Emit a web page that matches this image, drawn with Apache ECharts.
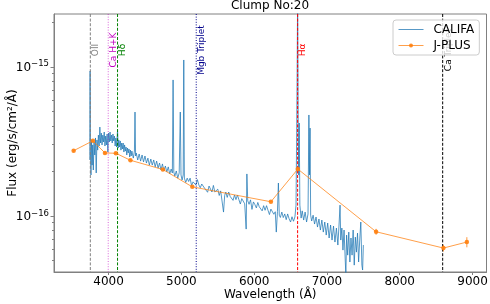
<!DOCTYPE html>
<html>
<head>
<meta charset="utf-8">
<script src="https://cdn.jsdelivr.net/npm/echarts@6/dist/echarts.min.js"></script>
<style>html,body{margin:0;padding:0;background:#fff}#c{width:490px;height:304px}</style>
</head>
<body>
<div id="c"></div>
<script>
// ---- data (flux in units of 1e-17 erg/s/cm2/A) ----
const FLUX_UNIT = 1e-17;
const califaWave = [
3742,3746,3750,3758,3766,3774,3782,3790,3800,3810,
3820,3830,3840,3850,3860,3870,3880,3890,3900,3910,
3920,3930,3940,3950,3960,3970,3980,3990,4000,4010,
4020,4030,4040,4050,4060,4070,4080,4090,4100,4110,
4123,4132,4140,4150,4160,4170,4180,4190,4200,4210,
4220,4230,4240,4250,4260,4270,4280,4290,4300,4310,
4320,4340,4355,4363,4371,4380,4400,4420,4440,4460,
4480,4500,4520,4540,4560,4580,4600,4620,4640,4660,
4680,4700,4720,4740,4760,4780,4800,4820,4840,4860,
4876,4886,4896,4910,4930,4950,4970,4985,4995,5010,
5025,5033,5041,5060,5080,5100,5120,5140,5160,5180,
5200,5220,5240,5260,5280,5300,5320,5340,5360,5380,
5400,5420,5440,5460,5480,5500,5520,5540,5560,5579,
5595,5610,5630,5650,5670,5690,5710,5730,5750,5770,
5790,5810,5830,5850,5870,5890,5900,5912,5930,5950,
5970,5990,6010,6030,6050,6070,6090,6110,6130,6150,
6170,6190,6210,6230,6250,6270,6290,6304,6320,6333,
6345,6360,6380,6400,6420,6440,6460,6480,6500,6520,
6540,6560,6575,6582,6590,6597,6605,6612,6619,6628,
6645,6660,6680,6700,6720,6740,6752,6760,6768,6776,
6790,6810,6830,6850,6870,6890,6910,6930,6950,6970,
6990,7010,7030,7050,7070,7090,7110,7130,7150,7165,
7180,7190,7205,7220,7235,7250,7260,7270,7285,7300,
7315,7330,7345,7360,7375,7390,7405,7420,7435,7450,
7465,7480,7490,7500
];
const califaFlux = [
23.7,93.7,27.6,18.8,32.3,21.9,29.9,20.3,31.3,25.6,
33.3,19.4,32.3,27.6,34.8,29.4,39.4,30.8,35.9,29.9,
34.8,31.3,36.5,29.4,34.3,29.9,35.4,26.8,35.9,31.3,
36.5,31.8,34.8,30.8,35.4,31.8,34.3,29.4,33.3,28.95,
37.6,28.5,32.3,28.95,31.8,27.6,30.8,28.1,30.8,26.8,
29.9,27.2,28.95,25.6,28.5,26.4,28.1,24.8,27.6,25.2,
27.2,24.4,27.2,49.7,25.2,26.4,23.7,26.0,23.3,25.6,
23.0,25.2,22.6,24.4,21.9,24.05,21.9,23.7,21.3,23.3,
20.9,22.6,20.3,22.3,20.0,21.6,19.7,21.3,19.1,20.6,
19.4,81.6,19.7,18.5,20.0,17.9,19.4,49.7,18.8,17.4,
18.8,111.1,17.9,16.75,17.9,17.0,17.9,15.95,16.9,17.2,
16.1,17.5,16.1,15.45,16.35,16.65,15.3,15.6,14.4,15.85,
15.5,14.45,16.0,14.45,14.55,15.1,13.7,14.7,15.0,10.6,
13.7,14.45,13.3,14.45,13.5,13.8,12.7,13.8,12.85,13.8,
12.85,12.0,13.05,13.15,12.05,8.15,19.1,12.6,11.95,12.8,
11.05,12.4,11.9,11.3,12.3,11.5,11.7,10.8,11.7,10.9,
11.7,10.9,10.2,11.1,11.2,10.25,10.65,7.78,10.7,16.6,
10.1,9.75,10.6,9.74,10.3,9.43,10.3,9.56,9.09,9.86,
9.2,9.84,11.8,27.6,81.6,300,41.96,18.8,41.96,11.8,
9.66,10.8,9.37,10.6,9.09,10.3,47.5,18.8,38.8,10.1,
9.23,10.1,8.81,9.82,8.41,9.52,8.03,9.37,7.78,9.09,
7.43,8.95,7.10,8.68,6.88,8.54,6.67,8.28,6.37,8.54,
11.8,6.88,8.28,5.89,8.03,5.21,4.00,7.43,5.45,7.78,
4.90,7.10,5.45,8.03,4.67,7.20,5.71,7.66,4.90,6.88,
9.09,4.67,4.33,6.37
];
const jplusWave = [3520, 3785, 3950, 4100, 4300, 4746, 5150, 6230, 6600, 7675, 8600, 8922];
const jplusFlux = [27.35, 31.9, 26.4, 26.3, 23.6, 20.45, 15.65, 12.43, 20.6, 7.82, 6.08, 6.67];
const jplusErr  = [0.4, 0.4, 0.4, 0.4, 0.3, 0.1, 0.15, 0.1, 0.15, 0.36, 0.31, 0.52];

const lineWave  = [3749, 3995, 4123, 5204, 6597, 8590];
const lineNames = ['OII', 'Ca H+K', 'H\u03b4', 'Mgb Triplet', 'H\u03b1', 'Ca Triplet'];

const xTicks = [4000, 5000, 6000, 7000, 8000, 9000];
const yMajorTicks = [1e-16, 1e-15];
const yMinorTicks = [5e-17, 6e-17, 7e-17, 8e-17, 9e-17, 2e-16, 3e-16, 4e-16, 5e-16, 6e-16, 7e-16, 8e-16, 9e-16, 2e-15];

// ---- styles ----
const lineColors = ['#808080', '#bf00bf', '#008000', '#00008b', '#ff0000', '#000000'];
const lineDashes = [[3, 1.6], [1, 1.6], [3, 1.6], [1, 1.6], [3, 1.6], [3, 1.6]];
const FONT = '"DejaVu Sans", sans-serif';
const AXIS_COLOR = '#808080';

const califaData = califaWave.map((w, i) => [w, califaFlux[i] * FLUX_UNIT]);
const jplusData = jplusWave.map((w, i) => [w, jplusFlux[i] * FLUX_UNIT]);
const errData = jplusWave.map((w, i) => [w, (jplusFlux[i] - jplusErr[i]) * FLUX_UNIT, (jplusFlux[i] + jplusErr[i]) * FLUX_UNIT]);
const vlineData = lineWave.map(w => [w, yMajorTicks[1]]);

function fmtPow(v) {
  const e = v < 0 ? Math.round(v) : Math.round(Math.log10(v));
  return '{b|10}{s|' + String(e).replace('-', '\u2212') + '}';
}

const chart = echarts.init(document.getElementById('c'), null, {renderer: 'canvas'});
chart.setOption({
  animation: false,
  backgroundColor: '#ffffff',
  title: {
    text: 'Clump No:20', left: 270, top: 0, padding: 0, textAlign: 'center',
    textStyle: {fontSize: 12, fontWeight: 'normal', color: '#000', fontFamily: FONT}
  },
  legend: {
    data: [
      {name: 'CALIFA', itemStyle: {opacity: 0}, lineStyle: {width: 1, color: '#1f77b4', opacity: 0.75}},
      {name: 'J-PLUS', lineStyle: {width: 1, color: '#ff7f0e', opacity: 0.75}}
    ],
    orient: 'vertical', left: 393, top: 20,
    itemWidth: 25, itemHeight: 5, itemGap: 4, padding: [3.5, 5, 3.5, 5],
    backgroundColor: 'rgba(255,255,255,0.8)', borderColor: '#cccccc', borderWidth: 1, borderRadius: 3,
    selectedMode: false,
    textStyle: {fontSize: 12, color: '#000', fontFamily: FONT, padding: [0, 0, 0, 5]}
  },
  grid: {left: 54, top: 14, width: 432.5, height: 258, show: true, borderColor: AXIS_COLOR, borderWidth: 1, backgroundColor: 'transparent', outerBoundsMode: 'none'},
  xAxis: {
    type: 'value', min: 3250, max: 9192,
    name: 'Wavelength (\u00c5)', nameLocation: 'middle', nameGap: 17, nameMoveOverlap: false,
    nameTextStyle: {fontSize: 12, color: '#000', fontFamily: FONT},
    axisLine: {show: true, lineStyle: {color: AXIS_COLOR, width: 1}},
    axisTick: {show: true, length: 3, customValues: xTicks, lineStyle: {color: AXIS_COLOR}},
    axisLabel: {customValues: xTicks, margin: 4, fontSize: 12, color: '#000', fontFamily: FONT, formatter: v => String(Math.round(v))},
    splitLine: {show: false}
  },
  yAxis: [{
    type: 'log', logBase: 10, min: 4.2e-17, max: 2.26e-15, position: 'left',
    name: 'Flux (erg/s/cm\u00b2/\u00c5)', nameLocation: 'middle', nameGap: 35, nameMoveOverlap: false,
    nameTextStyle: {fontSize: 12, color: '#000', fontFamily: FONT},
    axisLine: {show: true, lineStyle: {color: AXIS_COLOR, width: 1}},
    axisTick: {show: true, length: 3.5, customValues: yMajorTicks, lineStyle: {color: AXIS_COLOR}},
    axisLabel: {
      customValues: yMajorTicks, margin: 5, formatter: fmtPow,
      rich: {
        b: {fontSize: 12, color: '#000', fontFamily: FONT, lineHeight: 14, verticalAlign: 'bottom'},
        s: {fontSize: 8.5, color: '#000', fontFamily: FONT, lineHeight: 9, verticalAlign: 'top'}
      }
    },
    splitLine: {show: false}, minorTick: {show: false}
  }, {
    type: 'log', logBase: 10, min: 4.2e-17, max: 2.26e-15, position: 'left',
    axisLine: {show: false},
    axisTick: {show: true, length: 2, customValues: yMinorTicks, lineStyle: {color: AXIS_COLOR}},
    axisLabel: {show: false},
    splitLine: {show: false}
  }],
  series: [
    {
      name: 'CALIFA', type: 'line', data: califaData, symbol: 'none', z: 2, clip: true,
      lineStyle: {color: '#1f77b4', width: 1, opacity: 0.75}, itemStyle: {color: '#1f77b4'}
    },
    {
      type: 'custom', name: 'lines', z: 3, data: vlineData, silent: true,
      renderItem: function (params, api) {
        const i = params.dataIndex;
        const cs = params.coordSys;
        const px = api.coord([api.value(0), api.value(1)])[0];
        return {
          type: 'group',
          children: [
            {type: 'line', shape: {x1: px, y1: cs.y, x2: px, y2: cs.y + cs.height},
             style: {stroke: lineColors[i], lineWidth: 1, lineDash: lineDashes[i], opacity: i === 1 ? 0.6 : 1}},
            {type: 'text', x: px + 1, y: cs.y + 36, rotation: Math.PI / 2,
             style: {text: lineNames[i], fill: lineColors[i], font: '9px ' + FONT, align: 'center', verticalAlign: 'top'}}
          ]
        };
      }
    },
    {
      type: 'custom', name: 'jplusErr', z: 4, data: errData, silent: true,
      renderItem: function (params, api) {
        const p1 = api.coord([api.value(0), api.value(1)]);
        const p2 = api.coord([api.value(0), api.value(2)]);
        return {type: 'line', shape: {x1: p1[0], y1: p1[1], x2: p2[0], y2: p2[1]},
                style: {stroke: '#ff7f0e', lineWidth: 1, opacity: 0.8}};
      }
    },
    {
      name: 'J-PLUS', type: 'line', data: jplusData, z: 5,
      symbol: 'circle', symbolSize: 4.5, showSymbol: true,
      lineStyle: {color: '#ff7f0e', width: 1, opacity: 0.75},
      itemStyle: {color: '#ff7f0e', opacity: 0.9}
    }
  ]
});
</script>
</body>
</html>
